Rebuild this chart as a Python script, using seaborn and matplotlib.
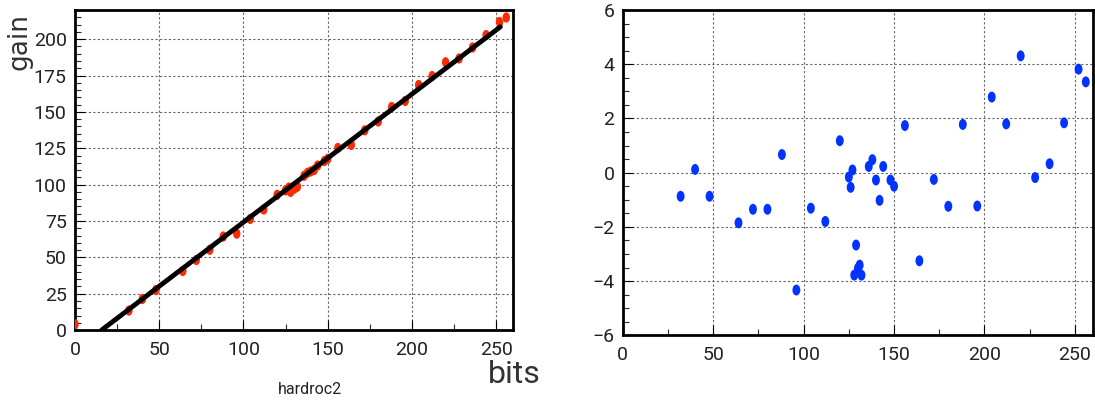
import pandas as pd
import matplotlib
matplotlib.use("Agg")
import matplotlib.pyplot as plt
from matplotlib.markers import MarkerStyle
from matplotlib.transforms import Affine2D
from matplotlib.ticker import MultipleLocator
import seaborn as sns

# Gain scan of the hardroc2 chip
bits = [0, 32, 40, 48, 64, 72, 80, 88, 96, 104, 112, 120, 125, 126, 127, 128, 129,
        130, 131, 132, 136, 138, 140, 142, 144, 148, 150, 156, 164, 172, 180, 188,
        196, 204, 212, 220, 228, 236, 244, 252, 256]
gain = [4.0, 13.4, 21.4, 27.5, 40.6, 48.2, 55.2, 64.3, 66.3, 76.4, 82.9, 93.0, 96.0,
        96.5, 98.0, 95.0, 97.0, 97.1, 98.1, 98.6, 106.1, 108.1, 109.1, 110.1, 113.1,
        116.2, 117.7, 125.2, 127.3, 137.3, 143.4, 153.4, 157.5, 168.5, 174.6, 184.1,
        186.7, 194.3, 202.8, 211.8, 214.9]

# linear fit drawn over the data (end points)
fit_bits = [15.8, 252.5]
fit_gain = [0.0, 208.5]

# residuals of the fit (right panel)
res_bits = [32, 40, 48, 64, 72, 80, 88, 96, 104, 112, 120, 125, 126, 127, 128, 129,
            130, 131, 132, 136, 138, 140, 142, 144, 148, 150, 156, 164, 172, 180, 188,
            196, 204, 212, 220, 228, 236, 244, 252, 256]
residual = [-0.87, 0.12, -0.87, -1.85, -1.35, -1.35, 0.67, -4.33, -1.31, -1.80, 1.18,
            -0.16, -0.54, 0.10, -3.78, -2.67, -3.53, -3.41, -3.78, 0.23, 0.48, -0.27,
            -1.02, 0.23, -0.27, -0.50, 1.74, -3.25, -0.25, -1.24, 1.78, -1.23, 2.79,
            1.80, 4.31, -0.18, 0.33, 1.84, 3.82, 3.35]

gain_df = pd.DataFrame({'bits': bits, 'gain': gain})
fit_df = pd.DataFrame({'bits': fit_bits, 'gain': fit_gain})
res_df = pd.DataFrame({'bits': res_bits, 'residual': residual})

sns.set_style("white")
plt.rcParams['font.family'] = ['Roboto', 'DejaVu Sans']

# slightly tall ellipse markers like the original
oval = MarkerStyle('o', transform=Affine2D().scale(0.72, 1.0))

fig = plt.figure(figsize=(10.95, 4.03), dpi=100)
ax1 = fig.add_axes([0.0685, 0.181, 0.40, 0.794])
ax2 = fig.add_axes([0.5687, 0.168, 0.4295, 0.807])


def root_style(ax):
    # thick frame, dotted grid, ticks inside
    for sp in ax.spines.values():
        sp.set_linewidth(2.0)
        sp.set_color('black')
    ax.grid(True, which='major', linestyle=(0, (2, 2)), color='#666666', linewidth=0.8)
    ax.set_axisbelow(True)
    ax.tick_params(which='major', direction='in', length=7, width=0.8,
                   labelsize=14, pad=6, colors='black', labelcolor='#222222')
    ax.tick_params(which='minor', direction='in', length=4, width=0.8)
    ax.tick_params(axis='both', which='both', left=True, bottom=True)
    ax.tick_params(axis='x', which='major', pad=8)
    ax.set_xlabel('')
    ax.set_ylabel('')


# Left: gain vs bits with fit
sns.scatterplot(data=gain_df, x='bits', y='gain', ax=ax1, color='#ff2a00',
                marker=oval, s=55, edgecolor='none', zorder=3)
sns.lineplot(data=fit_df, x='bits', y='gain', ax=ax1, color='black', linewidth=3.5,
             zorder=4)
ax1.set_xlim(0, 260)
ax1.set_ylim(0, 220)
ax1.xaxis.set_major_locator(MultipleLocator(50))
ax1.xaxis.set_minor_locator(MultipleLocator(25))
ax1.yaxis.set_major_locator(MultipleLocator(25))
ax1.yaxis.set_minor_locator(MultipleLocator(5))
root_style(ax1)

fig.text(0.006, 0.968, 'gain', rotation=90, ha='left', va='top', fontsize=19,
         family='DejaVu Sans', color='#333333')
fig.text(0.494, 0.035, 'bits', ha='right', va='bottom', fontsize=23, color='#333333')
fig.text(0.283, 0.014, 'hardroc2', ha='center', va='bottom', fontsize=11.5,
         color='#222222')

# Right: residuals
sns.scatterplot(data=res_df, x='bits', y='residual', ax=ax2, color='#0033ff',
                marker=oval, s=62, edgecolor='none', zorder=3)
ax2.set_xlim(0, 260)
ax2.set_ylim(-6, 6)
ax2.xaxis.set_major_locator(MultipleLocator(50))
ax2.xaxis.set_minor_locator(MultipleLocator(25))
ax2.yaxis.set_major_locator(MultipleLocator(2))
ax2.yaxis.set_minor_locator(MultipleLocator(0.5))
root_style(ax2)

fig.savefig('out.png', dpi=100)
